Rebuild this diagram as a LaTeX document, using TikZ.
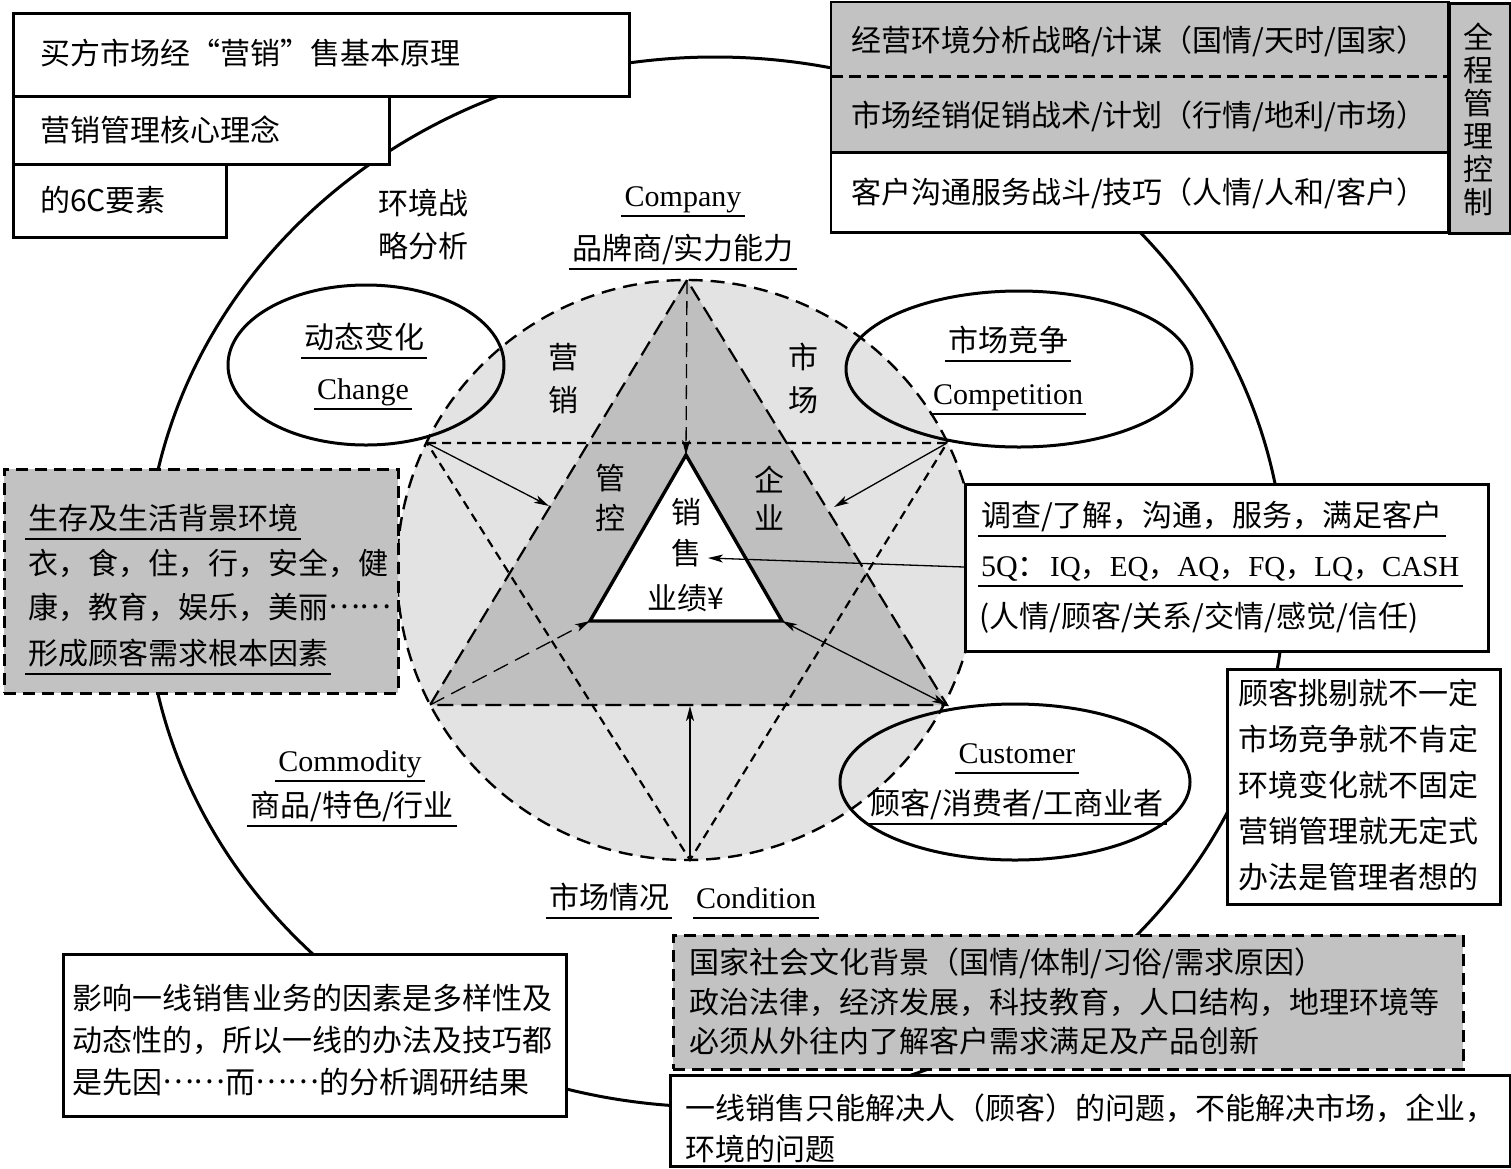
\documentclass[tikz,border=0pt]{standalone}
\usepackage{fontspec}
\setmainfont{Noto Sans CJK SC}
\newfontfamily\lat{Liberation Serif}
\usetikzlibrary{arrows.meta}
\definecolor{lgray}{HTML}{E3E3E3}
\definecolor{dgray}{HTML}{BFBFBF}
\definecolor{bgray}{HTML}{C2C2C2}
\newcommand\ulnode[1]{\draw[ulline] (#1.south west) -- (#1.south east);}
\newcommand\middots{\raisebox{0.32em}{……}}
\begin{document}
\begin{tikzpicture}[x=1pt,y=-1pt,
  font=\fontsize{30pt}{36pt}\selectfont,
  txt/.style={inner xsep=3pt, inner ysep=3pt, text height=29.4pt, text depth=6.6pt},
  lt/.style={txt, anchor=west},
  ulline/.style={line width=2pt},
  bord/.style={line width=2.6pt},
  wbox/.style={draw, bord, fill=white, inner sep=0pt, anchor=north west},
  gbox/.style={draw, bord, fill=bgray, dash pattern=on 12pt off 7pt, inner sep=0pt, anchor=north west},
  circdash/.style={line width=2.4pt, dash pattern=on 14pt off 8pt},
  longdash/.style={line width=2.2pt, dash pattern=on 16pt off 8pt},
  shortdash/.style={line width=2.2pt, dash pattern=on 9pt off 6pt},
  ring/.style={line width=3pt},
  arr/.style={line width=1.3pt, -{Stealth[length=15pt,width=8pt,inset=4pt]}},
  arrb/.style={line width=1.3pt, {Stealth[length=15pt,width=8pt,inset=4pt]}-{Stealth[length=15pt,width=8pt,inset=4pt]}}
]
\useasboundingbox (0,0) rectangle (1511,1168);

% outer ring
\draw[ring] (715,582) ellipse [x radius=570pt, y radius=525pt];

% hexagram points
\coordinate (A) at (687,280);
\coordinate (BL) at (430,705);
\coordinate (BR) at (947,705);
\coordinate (TL) at (427,443);
\coordinate (TR) at (947,443);
\coordinate (Bt) at (690,860);
\coordinate (IA) at (686,455);
\coordinate (IL) at (590,621);
\coordinate (IR) at (782,621);

% circle and triangles
\fill[lgray] (687,570) circle [radius=290pt];
\fill[dgray] (A) -- (BL) -- (BR) -- cycle;
\draw[line width=3.4pt, fill=white, line join=miter] (IA) -- (IL) -- (IR) -- cycle;
\draw[longdash] (A) -- (BL) -- (BR) -- cycle;
\draw[shortdash] (TL) -- (TR) -- (Bt) -- cycle;
\draw[circdash] (687,570) circle [radius=290pt];

% ellipses
\draw[ring] (366,365) ellipse [x radius=138pt, y radius=80pt];
\draw[ring] (1019,369) ellipse [x radius=173pt, y radius=78pt];
\draw[ring] (1015,782) ellipse [x radius=175pt, y radius=78pt];

% arrows
\coordinate (aL) at (549,506);
\coordinate (aR) at (834,507);
\coordinate (qs) at (964,567);
\coordinate (qe) at (708,558);
\coordinate (bU) at (690,706);
\draw[arr, dash pattern=on 14pt off 7pt] (A) -- (IA);
\draw[arr] (TL) -- (aL);
\draw[arr] (TR) -- (aR);
\draw[arr] (qs) -- (qe);
\draw[arr, dash pattern=on 16pt off 8pt] (BL) -- (IL);
\draw[arrb] (IR) -- (BR);
\draw[arr] (Bt) -- (bU);

% labels in the figure
\node[txt] (env1) at (423,203) {环境战};
\node[txt] (env2) at (423,246) {略分析};
\node[txt] (comp) at (683,195) {\lat Company}; \ulnode{comp}
\node[txt] (brand) at (683,248) {品牌商/实力能力}; \ulnode{brand}
\node[txt] (y1) at (563,357) {营};
\node[txt] (y2) at (563,400) {销};
\node[txt] (s1) at (803,357) {市};
\node[txt] (s2) at (803,400) {场};
\node[txt] (g1) at (610,478) {管};
\node[txt] (g2) at (610,518) {控};
\node[txt] (q1) at (769,480) {企};
\node[txt] (q2) at (769,518) {业};
\node[txt] (x1) at (686,512) {销};
\node[txt] (x2) at (686,553) {售};
\node[txt] (x3) at (686,598) {业绩¥};
\node[txt] (chg1) at (364,337) {动态变化}; \ulnode{chg1}
\node[txt] (chg2) at (363,388) {\lat Change}; \ulnode{chg2}
\node[txt] (cpt1) at (1008,340) {市场竞争}; \ulnode{cpt1}
\node[txt] (cpt2) at (1008,393) {\lat Competition}; \ulnode{cpt2}
\node[txt] (cus1) at (1017,752) {\lat Customer}; \ulnode{cus1}
\node[txt] (cus2) at (1017,803) {顾客/消费者/工商业者}; \ulnode{cus2}
\node[txt] (cmd1) at (350,760) {\lat Commodity}; \ulnode{cmd1}
\node[txt] (cmd2) at (352,805) {商品/特色/行业}; \ulnode{cmd2}
\node[txt] (cnd1) at (609,897) {市场情况}; \ulnode{cnd1}
\node[txt] (cnd2) at (756,897) {\lat Condition}; \ulnode{cnd2}

% top-left boxes
\node[wbox, minimum width=616pt, minimum height=83pt] (b1) at (12,12) {};
\node[wbox, minimum width=376pt, minimum height=68pt] (b2) at (12,95) {};
\node[wbox, minimum width=213pt, minimum height=73pt] (b3) at (12,163) {};
\node[lt] (t1) at (37,53) {买方市场经“营销”售基本原理};
\node[lt] (t2) at (37,130) {营销管理核心理念};
\node[lt] (t3) at (37,200) {的6C要素};

% top-right box
\node[fill=bgray, inner sep=0pt, minimum width=617pt, minimum height=74pt, anchor=north west] (r1) at (831,2) {};
\node[fill=bgray, inner sep=0pt, minimum width=617pt, minimum height=76pt, anchor=north west] (r2) at (831,76) {};
\node[fill=white, inner sep=0pt, minimum width=617pt, minimum height=80pt, anchor=north west] (r3) at (831,152) {};
\draw[line width=3pt, dash pattern=on 12pt off 6pt] (r1.south west) -- (r1.south east);
\draw[bord] (r2.south west) -- (r2.south east);
\draw[bord] (r1.north west) rectangle (r3.south east);
\node[draw, bord, fill=bgray, inner sep=0pt, minimum width=61pt, minimum height=230pt, anchor=north west] (col) at (1448,2) {};
\node[lt] (rt1) at (848,40) {经营环境分析战略/计谋（国情/天时/国家）};
\node[lt] (rt2) at (848,115) {市场经销促销战术/计划（行情/地利/市场）};
\node[lt] (rt3) at (848,192) {客户沟通服务战斗/技巧（人情/人和/客户）};
\node[inner sep=0pt, align=center, font=\fontsize{30pt}{33pt}\selectfont] (ctl) at (1478,119) {全\\程\\管\\理\\控\\制};

% left gray box
\node[gbox, minimum width=394pt, minimum height=224pt] (lb) at (3,468) {};
\node[lt] (l1) at (25,518) {生存及生活背景环境}; \ulnode{l1}
\node[lt] (l2) at (25,563) {衣，食，住，行，安全，健};
\node[lt] (l3) at (25,607) {康，教育，娱乐，美丽\middots};
\node[lt] (l4) at (25,653) {形成顾客需求根本因素}; \ulnode{l4}

% 5Q box
\node[wbox, minimum width=523pt, minimum height=167pt] (qb) at (964,483) {};
\node[lt] (f1) at (978,515) {调查/了解，沟通，服务，满足客户}; \ulnode{f1}
\node[lt] (f2) at (978,565) {\lat 5Q\normalfont：}; \ulnode{f2}
\node[lt, font=\fontsize{29pt}{36pt}\selectfont] (f3) at (1047,565) {\lat IQ\normalfont，\lat EQ\normalfont，\lat AQ\normalfont，\lat FQ\normalfont，\lat LQ\normalfont，\lat CASH}; \ulnode{f3}
\node[lt] (f4) at (976,616) {(人情/顾客/关系/交情/感觉/信任)};

% right box
\node[wbox, minimum width=273pt, minimum height=235pt] (rb) at (1226,668) {};
\node[lt] (k1) at (1235,693) {顾客挑剔就不一定};
\node[lt] (k2) at (1235,739) {市场竞争就不肯定};
\node[lt] (k3) at (1235,785) {环境变化就不固定};
\node[lt] (k4) at (1235,831) {营销管理就无定式};
\node[lt] (k5) at (1235,877) {办法是管理者想的};

% bottom-left box
\node[wbox, minimum width=503pt, minimum height=162pt] (bl) at (62,953) {};
\node[lt] (m1) at (69,998) {影响一线销售业务的因素是多样性及};
\node[lt] (m2) at (69,1040) {动态性的，所以一线的办法及技巧都};
\node[lt] (m3) at (69,1082) {是先因\middots 而\middots 的分析调研结果};

% bottom gray box
\node[gbox, minimum width=790pt, minimum height=134pt] (gb) at (672,934) {};
\node[lt] (n1) at (686,962) {国家社会文化背景（国情/体制/习俗/需求原因）};
\node[lt] (n2) at (686,1002) {政治法律，经济发展，科技教育，人口结构，地理环境等};
\node[lt] (n3) at (686,1041) {必须从外往内了解客户需求满足及产品创新};

% bottom box
\node[wbox, minimum width=840pt, minimum height=91pt] (wb) at (669,1074) {};
\node[lt] (w1) at (682,1108) {一线销售只能解决人（顾客）的问题，不能解决市场，企业，};
\node[lt] (w2) at (682,1149) {环境的问题};
\end{tikzpicture}
\end{document}
